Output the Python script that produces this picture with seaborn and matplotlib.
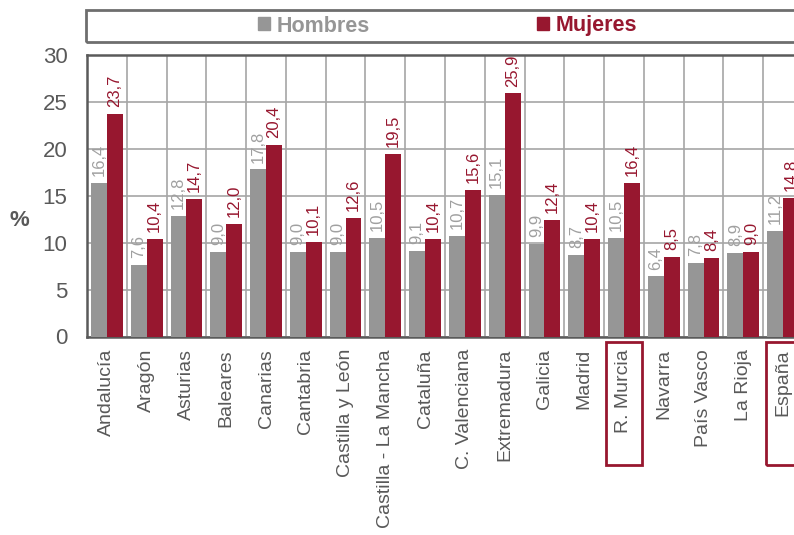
import matplotlib
matplotlib.use("Agg")
import matplotlib.pyplot as plt
import matplotlib.patches as mpatches
import matplotlib.transforms as mtransforms
from matplotlib.ticker import FixedLocator
import seaborn as sns
import pandas as pd

regions = ["Andalucía", "Aragón", "Asturias", "Baleares", "Canarias", "Cantabria",
           "Castilla y León", "Castilla - La Mancha", "Cataluña", "C. Valenciana",
           "Extremadura", "Galicia", "Madrid", "R. Murcia", "Navarra", "País Vasco",
           "La Rioja", "España"]
hombres = [16.4, 7.6, 12.8, 9.0, 17.8, 9.0, 9.0, 10.5, 9.1, 10.7, 15.1, 9.9, 8.7, 10.5, 6.4, 7.8, 8.9, 11.2]
mujeres = [23.7, 10.4, 14.7, 12.0, 20.4, 10.1, 12.6, 19.5, 10.4, 15.6, 25.9, 12.4, 10.4, 16.4, 8.5, 8.4, 9.0, 14.8]
series = ["Hombres", "Mujeres"]
highlighted = ["R. Murcia", "España"]
yticks = [0, 5, 10, 15, 20, 25, 30]

GRAY = "#969696"
RED = "#97172f"
TXT = "#595959"

plt.rcParams["font.family"] = ["Liberation Sans", "DejaVu Sans"]

df = pd.DataFrame({
    "region": regions * 2,
    "sexo": [series[0]] * len(regions) + [series[1]] * len(regions),
    "valor": hombres + mujeres,
})

fig = plt.figure(figsize=(7.94, 5.35), dpi=100)
ax = fig.add_axes([87 / 794, 1 - 336.5 / 535, 716 / 794, 281.5 / 535])

sns.barplot(data=df, x="region", y="valor", hue="sexo", order=regions,
            hue_order=series, palette=[GRAY, RED], saturation=1, width=0.8,
            linewidth=0, ax=ax, zorder=3, legend=False)

ax.set_xlim(-0.5, len(regions) - 0.5)
ax.set_ylim(0, 30)
ax.set_yticks(yticks)
ax.set_yticklabels([str(t) for t in yticks])
ax.xaxis.set_minor_locator(FixedLocator([i + 0.5 for i in range(len(regions) - 1)]))
ax.grid(False)
ax.grid(axis="y", which="major", color="#a6a6a6", linewidth=1.2, zorder=0)
ax.grid(axis="x", which="minor", color="#a6a6a6", linewidth=1.2, zorder=0)
ax.set_axisbelow(True)

ax.tick_params(axis="y", length=0, pad=14, labelsize=16, labelcolor=TXT)
ax.tick_params(axis="x", which="both", length=0, pad=9, labelsize=14, labelcolor=TXT)
for lab in ax.get_xticklabels():
    lab.set_rotation(90)
    lab.set_va("top")
    lab.set_ha("center")

for sp in ax.spines.values():
    sp.set_color("#5a5a5a")
    sp.set_linewidth(1.8)

ax.set_xlabel("")
ax.set_ylabel("%", rotation=0, fontsize=16, fontweight="bold", color=TXT)
ax.yaxis.set_label_coords(-0.095, 0.375)

label_colors = ["#a0a0a0", RED]
for cont, col in zip(ax.containers, label_colors):
    vals = [b.get_height() for b in cont]
    ax.bar_label(cont, labels=[f"{v:.1f}".replace(".", ",") for v in vals],
                 rotation=90, padding=5, color=col, fontsize=12, zorder=4)

# highlight boxes around selected tick labels
trans = mtransforms.blended_transform_factory(ax.transData, ax.transAxes)
for name in highlighted:
    i = regions.index(name)
    rect = mpatches.Rectangle((i - 0.44, -0.456), 0.88, 0.4365, transform=trans,
                              fill=False, edgecolor=RED, linewidth=2, clip_on=False)
    ax.add_patch(rect)

# legend with frame box
handles = [mpatches.Patch(color=GRAY, label=series[0]),
           mpatches.Patch(color=RED, label=series[1])]
leg = fig.legend(handles=handles, loc="center", ncol=2, frameon=False,
                 bbox_to_anchor=(447.5 / 794, 1 - 26 / 535),
                 prop={"weight": "bold", "size": 15.5},
                 handlelength=0.55, handleheight=0.55, handletextpad=0.3,
                 columnspacing=7.8, borderpad=0)
for t, c in zip(leg.get_texts(), [GRAY, RED]):
    t.set_color(c)

frame = mpatches.Rectangle((86 / 794, 1 - 42 / 535), 0.95, 32 / 535,
                           transform=fig.transFigure, fill=False,
                           edgecolor="#6e6e6e", linewidth=2)
fig.add_artist(frame)

fig.savefig("out.png", dpi=100)
